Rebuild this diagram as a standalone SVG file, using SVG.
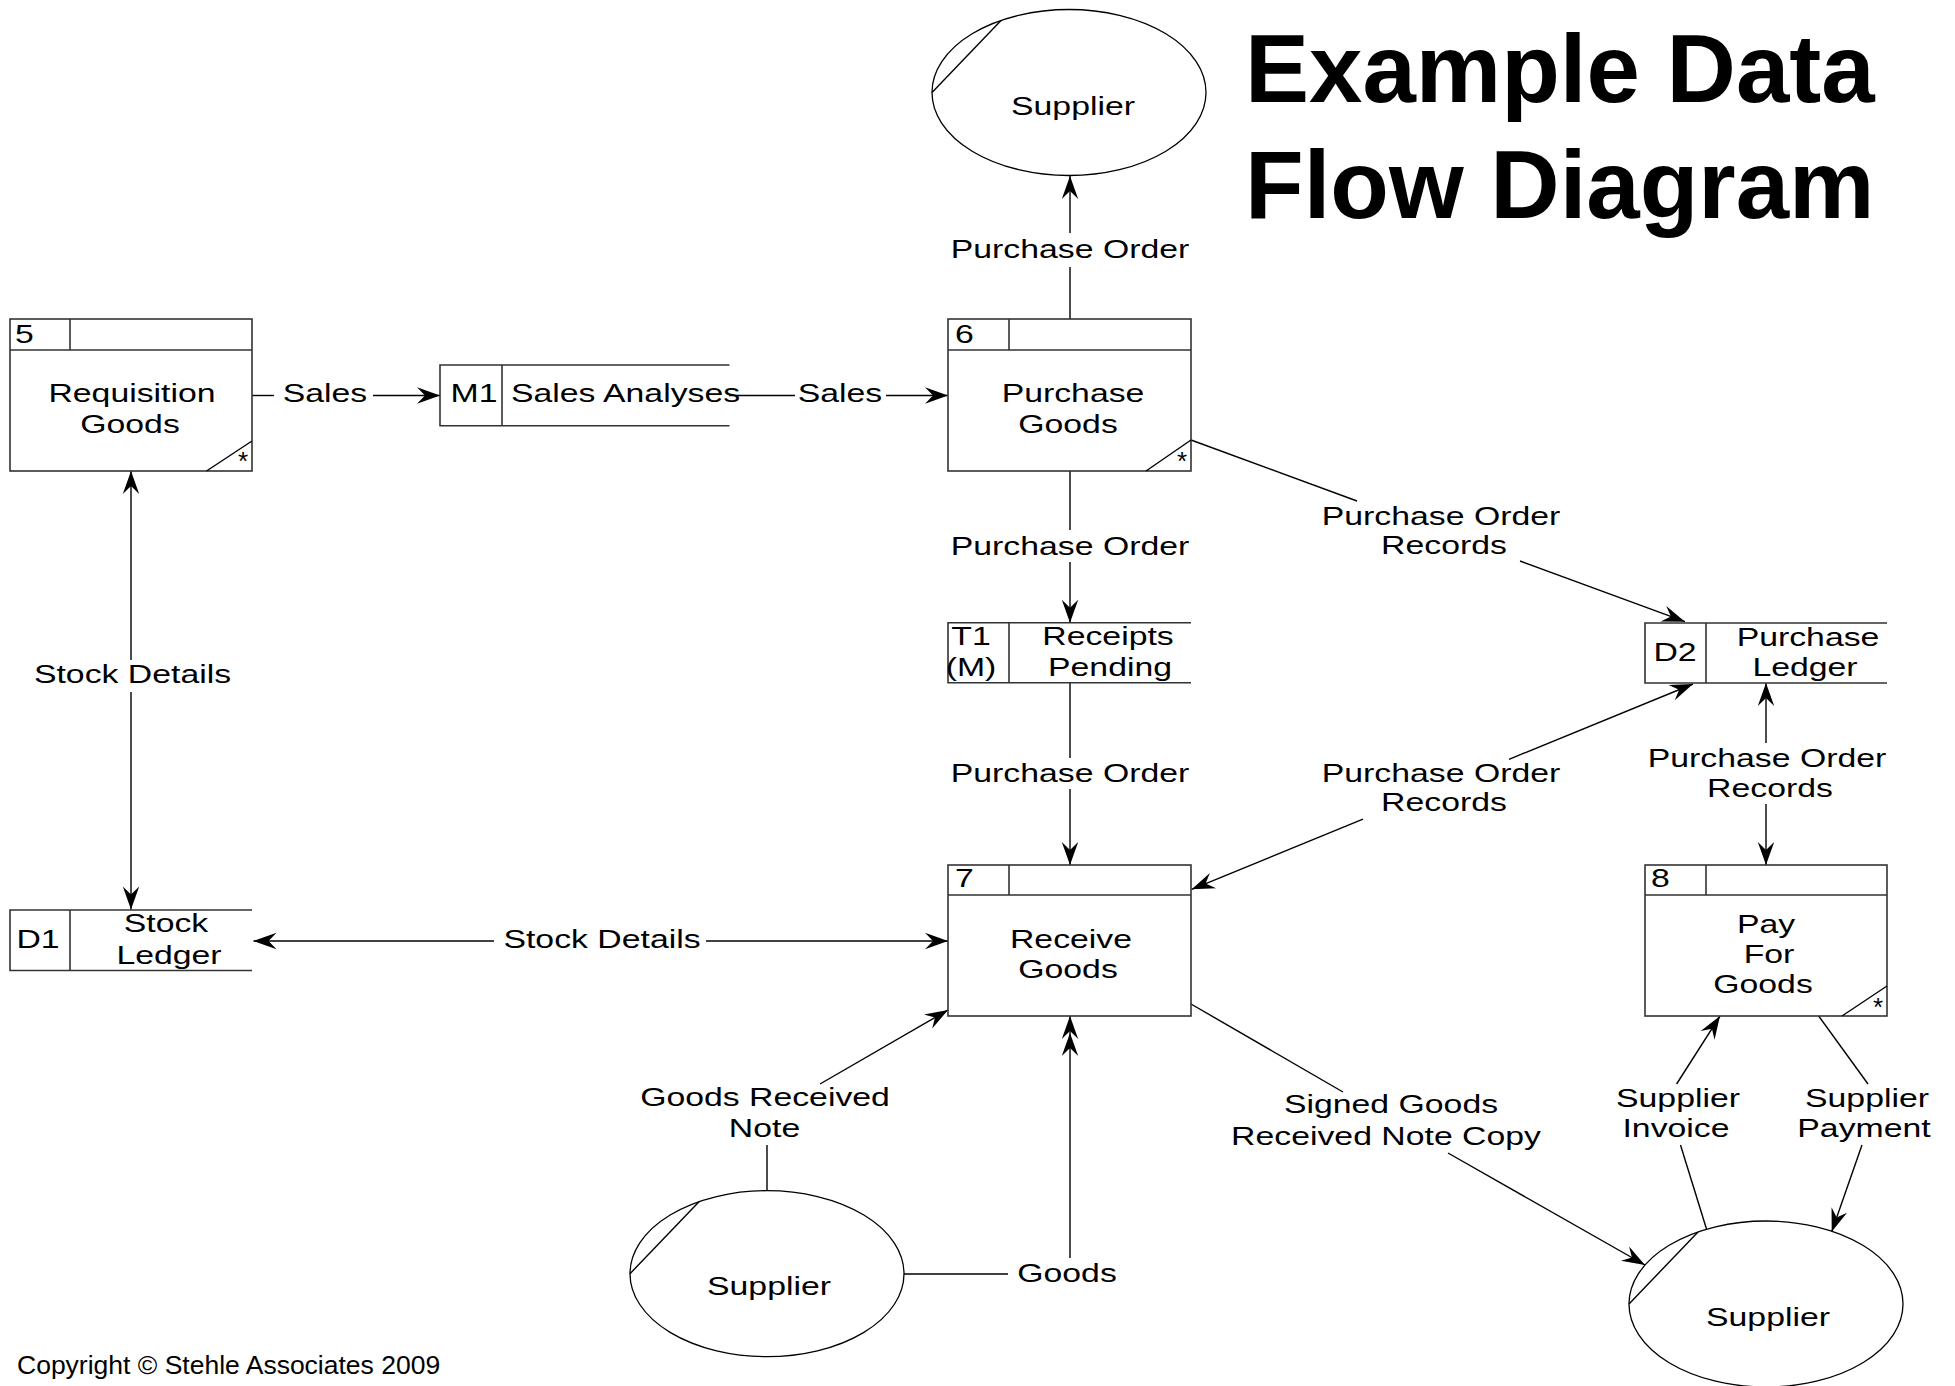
<svg xmlns="http://www.w3.org/2000/svg" width="1955" height="1386" viewBox="0 0 1955 1386">
<style>
.bx{fill:#fff;stroke:#333;stroke-width:1.6}
.sl{fill:none;stroke:#333;stroke-width:1.6}
.el{fill:#fff;stroke:#000;stroke-width:1.3}
.ln{fill:none;stroke:#000;stroke-width:1.4}
.t{font-family:"Liberation Sans",Arial,Helvetica,sans-serif;font-size:26.5px;fill:#000}
.c{text-anchor:middle}
.ast{font-family:"Liberation Sans",Arial,sans-serif;font-size:26px;text-anchor:middle;fill:#000}
.ttl{font-family:"Liberation Sans",Arial,Helvetica,sans-serif;font-size:96px;font-weight:bold;fill:#000}
</style>
<defs>
<marker id="ah" viewBox="-24 -10 25 20" refX="0" refY="0" markerWidth="25" markerHeight="20" markerUnits="userSpaceOnUse" orient="auto-start-reverse"><path d="M0,0 L-23,-8.2 L-15,0 L-23,8.2 Z" fill="#000"/></marker>
<marker id="ah2" viewBox="-42 -10 43 20" refX="0" refY="0" markerWidth="43" markerHeight="20" markerUnits="userSpaceOnUse" orient="auto"><path d="M0,0 L-23,-8.2 L-15,0 L-23,8.2 Z M-17,0 L-40,-8.2 L-32,0 L-40,8.2 Z" fill="#000"/></marker>
</defs>
<rect width="1955" height="1386" fill="#fff"/>

<g id="title">
<text class="ttl" x="1245" y="102">Example Data</text>
<text class="ttl" x="1245" y="218">Flow Diagram</text>
</g>

<g id="connectors">
<path class="ln" d="M1070,319 V267"/>
<path class="ln" d="M1070,233 V176" marker-end="url(#ah)"/>
<path class="ln" d="M252,395.5 H274"/>
<path class="ln" d="M373,395.5 H440" marker-end="url(#ah)"/>
<path class="ln" d="M729,395.5 H795"/>
<path class="ln" d="M886,395.5 H948" marker-end="url(#ah)"/>
<path class="ln" d="M1070,471 V530"/>
<path class="ln" d="M1070,562 V622.7" marker-end="url(#ah)"/>
<path class="ln" d="M1070,683 V758"/>
<path class="ln" d="M1070,789 V865" marker-end="url(#ah)"/>
<path class="ln" d="M1191,440 L1357,501"/>
<path class="ln" d="M1520,561 L1685,621.7" marker-end="url(#ah)"/>
<path class="ln" d="M1191.7,889.3 L1363,819.2" marker-start="url(#ah)"/>
<path class="ln" d="M1509,759.3 L1693,684" marker-end="url(#ah)"/>
<path class="ln" d="M1766,683 V743" marker-start="url(#ah)"/>
<path class="ln" d="M1766,804 V865" marker-end="url(#ah)"/>
<path class="ln" d="M131,471 V660" marker-start="url(#ah)"/>
<path class="ln" d="M131,692 V909.5" marker-end="url(#ah)"/>
<path class="ln" d="M253.5,941 H494" marker-start="url(#ah)"/>
<path class="ln" d="M706,941 H948" marker-end="url(#ah)"/>
<path class="ln" d="M767,1190.7 V1145"/>
<path class="ln" d="M820,1084 L948,1010" marker-end="url(#ah)"/>
<path class="ln" d="M904,1274 H1008"/>
<path class="ln" d="M1070,1258 V1016" marker-end="url(#ah2)"/>
<path class="ln" d="M1191,1004 L1343,1092"/>
<path class="ln" d="M1448,1153 L1645,1265" marker-end="url(#ah)"/>
<path class="ln" d="M1706.5,1229 L1680.5,1145"/>
<path class="ln" d="M1676.6,1084 L1720,1016" marker-end="url(#ah)"/>
<path class="ln" d="M1818.7,1016 L1868,1084"/>
<path class="ln" d="M1862,1145 L1831.7,1231.7" marker-end="url(#ah)"/>

<text class="t c" transform="translate(1070 258) scale(1.275 1)">Purchase Order</text>
<text class="t c" transform="translate(325 402) scale(1.275 1)">Sales</text>
<text class="t c" transform="translate(840 402) scale(1.275 1)">Sales</text>
<text class="t c" transform="translate(1070 555) scale(1.275 1)">Purchase Order</text>
<text class="t c" transform="translate(1070 782) scale(1.275 1)">Purchase Order</text>
<text class="t c" transform="translate(1441 525) scale(1.275 1)">Purchase Order</text>
<text class="t c" transform="translate(1444 554) scale(1.275 1)">Records</text>
<text class="t c" transform="translate(1441 782) scale(1.275 1)">Purchase Order</text>
<text class="t c" transform="translate(1444 811) scale(1.275 1)">Records</text>
<text class="t c" transform="translate(1767 767) scale(1.275 1)">Purchase Order</text>
<text class="t c" transform="translate(1770 797) scale(1.275 1)">Records</text>
<text class="t c" transform="translate(132.5 683) scale(1.275 1)">Stock Details</text>
<text class="t c" transform="translate(602 948) scale(1.275 1)">Stock Details</text>
<text class="t c" transform="translate(765 1106) scale(1.275 1)">Goods Received</text>
<text class="t c" transform="translate(764.5 1137) scale(1.275 1)">Note</text>
<text class="t c" transform="translate(1067 1282) scale(1.275 1)">Goods</text>
<text class="t c" transform="translate(1391 1113) scale(1.275 1)">Signed Goods</text>
<text class="t c" transform="translate(1386 1145) scale(1.275 1)">Received Note Copy</text>
<text class="t c" transform="translate(1678 1107) scale(1.275 1)">Supplier</text>
<text class="t c" transform="translate(1676 1137) scale(1.275 1)">Invoice</text>
<text class="t c" transform="translate(1867 1107) scale(1.275 1)">Supplier</text>
<text class="t c" transform="translate(1864 1137) scale(1.275 1)">Payment</text>
</g>

<g id="supplier-top">
<ellipse class="el" cx="1069" cy="92.5" rx="137" ry="83"/>
<path class="ln" d="M1001,20.5 L932,92.5"/>
<text class="t c" transform="translate(1073 115) scale(1.275 1)">Supplier</text>
</g>

<g id="supplier-left">
<ellipse class="el" cx="767" cy="1273.7" rx="137" ry="83"/>
<path class="ln" d="M699,1201.7 L630,1273.7"/>
<text class="t c" transform="translate(769 1295) scale(1.275 1)">Supplier</text>
</g>

<g id="supplier-right">
<ellipse class="el" cx="1766" cy="1304" rx="137" ry="83"/>
<path class="ln" d="M1698,1232 L1629,1304"/>
<text class="t c" transform="translate(1768 1326) scale(1.275 1)">Supplier</text>
</g>

<g id="p5">
<rect class="bx" x="10" y="319" width="242" height="152"/>
<path class="sl" d="M10,350 H252 M70,319 V350"/>
<path class="ln" d="M206.5,471 L252,441"/>
<text class="ast" x="243" y="470">*</text>
<text class="t" transform="translate(15 343) scale(1.275 1)">5</text>
<text class="t c" transform="translate(132 402) scale(1.275 1)">Requisition</text>
<text class="t c" transform="translate(130 433) scale(1.275 1)">Goods</text>
</g>

<g id="p6">
<rect class="bx" x="948" y="319" width="243" height="152"/>
<path class="sl" d="M948,350 H1191 M1009,319 V350"/>
<path class="ln" d="M1146,471 L1191,440"/>
<text class="ast" x="1182" y="470">*</text>
<text class="t" transform="translate(955 343) scale(1.275 1)">6</text>
<text class="t c" transform="translate(1073 402) scale(1.275 1)">Purchase</text>
<text class="t c" transform="translate(1068 433) scale(1.275 1)">Goods</text>
</g>

<g id="p7">
<rect class="bx" x="948" y="865" width="243" height="151"/>
<path class="sl" d="M948,895 H1191 M1009,865 V895"/>
<text class="t" transform="translate(955 887) scale(1.275 1)">7</text>
<text class="t c" transform="translate(1071 948) scale(1.275 1)">Receive</text>
<text class="t c" transform="translate(1068 978) scale(1.275 1)">Goods</text>
</g>

<g id="p8">
<rect class="bx" x="1645" y="865" width="242" height="151"/>
<path class="sl" d="M1645,895 H1887 M1706,865 V895"/>
<path class="ln" d="M1842,1016 L1887,986"/>
<text class="ast" x="1878" y="1016">*</text>
<text class="t" transform="translate(1651 887) scale(1.275 1)">8</text>
<text class="t c" transform="translate(1766 933) scale(1.275 1)">Pay</text>
<text class="t c" transform="translate(1769 963) scale(1.275 1)">For</text>
<text class="t c" transform="translate(1763 993) scale(1.275 1)">Goods</text>
</g>

<g id="m1">
<path class="sl" d="M729.5,365 H440 V425.7 H729.5 M502,365 V425.7"/>
<text class="t c" transform="translate(474 402) scale(1.275 1)">M1</text>
<text class="t" transform="translate(511 402) scale(1.275 1)">Sales Analyses</text>
</g>

<g id="t1">
<path class="sl" d="M1191,622.7 H948 V682.7 H1191 M1009,622.7 V682.7"/>
<text class="t c" transform="translate(971 645) scale(1.275 1)">T1</text>
<text class="t c" transform="translate(971 676) scale(1.275 1)">(M)</text>
<text class="t c" transform="translate(1108 645) scale(1.275 1)">Receipts</text>
<text class="t c" transform="translate(1110 676) scale(1.275 1)">Pending</text>
</g>

<g id="d2">
<path class="sl" d="M1887,623 H1645 V683 H1887 M1706,623 V683"/>
<text class="t c" transform="translate(1675 661) scale(1.275 1)">D2</text>
<text class="t c" transform="translate(1808 646) scale(1.275 1)">Purchase</text>
<text class="t c" transform="translate(1805 676) scale(1.275 1)">Ledger</text>
</g>

<g id="d1">
<path class="sl" d="M252,910 H10 V970.5 H252 M70,910 V970.5"/>
<text class="t c" transform="translate(38 948) scale(1.275 1)">D1</text>
<text class="t c" transform="translate(166 932) scale(1.275 1)">Stock</text>
<text class="t c" transform="translate(169 964) scale(1.275 1)">Ledger</text>
</g>

<g id="copyright">
<text class="t" x="17" y="1374">Copyright © Stehle Associates 2009</text>
</g>
</svg>
